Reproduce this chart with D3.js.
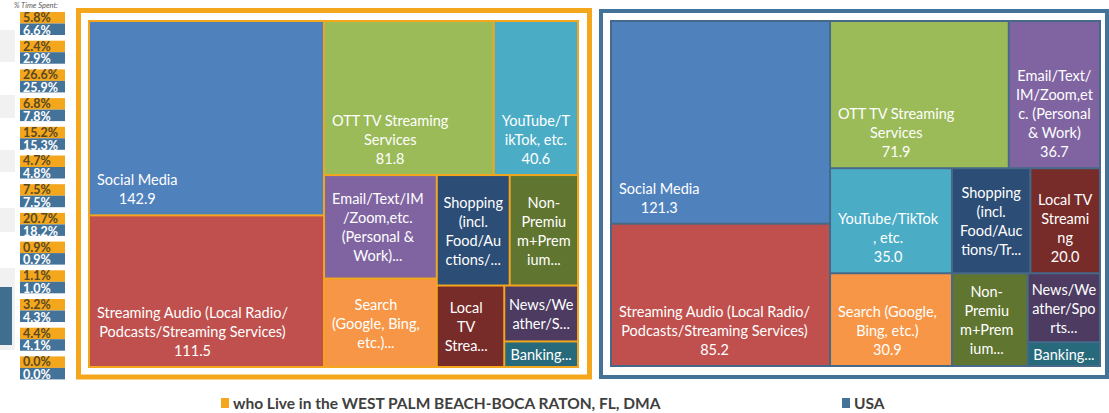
<!DOCTYPE html>
<html><head><meta charset="utf-8">
<script src="https://cdn.jsdelivr.net/npm/d3@7"></script>
<style>body{margin:0;background:#fff}svg{display:block}text{font-family:Lato,"Open Sans",sans-serif}</style>
</head><body><svg id="c" width="1109" height="413"></svg>
<script>
// ---- data ----
const categories = ["Social Media","Streaming Audio","OTT TV Streaming Services","YouTube/TikTok, etc.","Email/Text/IM/Zoom,etc.","Search","Shopping","Non-Premium+Premium","Local TV Streaming","News/Weather/Sports","Banking"];
const wpbValues = [142.9,111.5,81.8,40.6,36.5,31.2,25.2,23.6,17.2,12.9,5.9];
const usaValues = [121.3,85.2,71.9,35.0,36.7,30.9,22.5,19.2,20.0,13.6,4.7];
const wpbLabels = [
  ["Social Media"],
  ["Streaming Audio (Local Radio/","Podcasts/Streaming Services)"],
  ["OTT TV Streaming","Services"],
  ["YouTube/T","ikTok, etc."],
  ["Email/Text/IM","/Zoom,etc.","(Personal &","Work)..."],
  ["Search","(Google, Bing,","etc.)..."],
  ["Shopping","(incl.","Food/Au","ctions/..."],
  ["Non-","Premiu","m+Prem","ium..."],
  ["Local","TV","Strea..."],
  ["News/We","ather/S..."],
  ["Banking..."]
];
const usaLabels = [
  ["Social Media"],
  ["Streaming Audio (Local Radio/","Podcasts/Streaming Services)"],
  ["OTT TV Streaming","Services"],
  ["YouTube/TikTok",", etc."],
  ["Email/Text/","IM/Zoom,et","c. (Personal","& Work)"],
  ["Search (Google,","Bing, etc.)"],
  ["Shopping","(incl.","Food/Auc","tions/Tr..."],
  ["Non-","Premiu","m+Prem","ium..."],
  ["Local TV","Streami","ng"],
  ["News/We","ather/Spo","rts..."],
  ["Banking..."]
];
const wpbPct = ["5.8%","2.4%","26.6%","6.8%","15.2%","4.7%","7.5%","20.7%","0.9%","1.1%","3.2%","4.4%","0.0%"];
const usaPct = ["6.6%","2.9%","25.9%","7.8%","15.3%","4.8%","7.5%","18.2%","0.9%","1.0%","4.3%","4.1%","0.0%"];
const legendLabels = ["who Live in the WEST PALM BEACH-BOCA RATON, FL, DMA","USA"];

// ---- styles ----
const colors = ["#4f81bd","#c0504d","#9bbb59","#4bacc6","#8064a2","#f79646","#2c4d75","#5f7530","#772c2a","#4d3b62","#276a7c"];
const ORANGE = "#f4a61c", BLUE = "#44739a", SEPBLUE = "#46698a";

const svg = d3.select("#c");
svg.append("rect").attr("width",1109).attr("height",413).attr("fill","#fff");

// left cropped decoration
[[30,62],[95,118],[150,172],[208,232],[268,350]].forEach(r=>{
  svg.append("rect").attr("x",0).attr("y",r[0]).attr("width",15).attr("height",r[1]-r[0]).attr("fill","#f1f1f1");
});
svg.append("rect").attr("x",0).attr("y",287).attr("width",12).attr("height",58).attr("fill","#3f6e8e");

svg.append("text").attr("x",14).attr("y",5.5).attr("dominant-baseline","central").attr("font-size",7.5).attr("font-style","italic").attr("fill","#595959").text("% Time Spent:");

const rowY = d3.scalePoint().domain(d3.range(wpbPct.length)).range([12, 12 + 12*28.7]);
wpbPct.forEach((p,i)=>{
  const y = rowY(i);
  svg.append("rect").attr("x",20).attr("y",y).attr("width",45).attr("height",11.5).attr("fill",ORANGE);
  svg.append("rect").attr("x",20).attr("y",y+11.5).attr("width",45).attr("height",11.5).attr("fill",BLUE);
  svg.append("text").attr("x",23).attr("y",y+5.4).attr("dominant-baseline","central").attr("font-size",12.5).attr("font-weight","bold").attr("fill","#5a4a22").text(p);
  svg.append("text").attr("x",23).attr("y",y+18.2).attr("dominant-baseline","central").attr("font-size",12.5).attr("font-weight","bold").attr("fill","#fff").text(usaPct[i]);
});

// frames
svg.append("rect").attr("x",78.5).attr("y",10.5).attr("width",511).attr("height",366.5).attr("fill","none").attr("stroke",ORANGE).attr("stroke-width",5);
svg.append("rect").attr("x",601).attr("y",11).attr("width",506).attr("height",366).attr("fill","none").attr("stroke",BLUE).attr("stroke-width",4);

const LH = 19;
function panel(values, labels, box, sep){
  const root = d3.hierarchy({children: categories.map((c,i)=>({name:c, value:values[i], lines:labels[i], color:colors[i]}))})
    .sum(d=>d.value||0).sort((a,b)=>b.value-a.value);
  d3.treemap().tile(d3.treemapSquarify.ratio(1)).size([box.w, box.h]).paddingInner(2).paddingOuter(2)(root);
  const g = svg.append("g").attr("transform",`translate(${box.x},${box.y})`);
  g.append("rect").attr("width",box.w).attr("height",box.h).attr("fill",sep);
  const cell = g.selectAll("g.cell").data(root.leaves()).join("g").attr("class","cell");
  cell.append("rect").attr("x",d=>d.x0).attr("y",d=>d.y0).attr("width",d=>d.x1-d.x0).attr("height",d=>d.y1-d.y0).attr("fill",d=>d.data.color);
  cell.each(function(d){
    const lines = d.data.lines.slice();
    const truncated = lines[lines.length-1].endsWith("...");
    if(!truncated) lines.push(d3.format(".1f")(d.value));
    const t = d3.select(this).append("text").attr("fill","#fff").attr("font-size",14.5)
      .attr("text-anchor","middle").attr("dominant-baseline","central");
    lines.forEach((l,i)=>t.append("tspan").attr("x",0).attr("y",i*LH).text(l));
    const maxW = d3.max(t.selectAll("tspan").nodes(), n=>n.getComputedTextLength());
    const cx = Math.min(d.x0 + 7 + maxW/2, (d.x0+d.x1)/2);
    const firstY = truncated ? (d.y0+d.y1)/2 - (lines.length-1)*LH/2 : d.y1 - 16 - (lines.length-1)*LH;
    t.attr("transform",`translate(${cx},${firstY})`);
  });
}
panel(wpbValues, wpbLabels, {x:88,y:20,w:491,h:348}, ORANGE);
panel(usaValues, usaLabels, {x:610,y:20,w:491,h:347}, SEPBLUE);

// legend
const legX = [221, 842], legC = [ORANGE, BLUE];
legendLabels.forEach((l,i)=>{
  svg.append("rect").attr("x",legX[i]).attr("y",398).attr("width",8).attr("height",10).attr("fill",legC[i]);
  svg.append("text").attr("x",legX[i]+12).attr("y",403).attr("dominant-baseline","central").attr("font-size",15.5).attr("font-weight","bold").attr("fill","#404040").text(l);
});
</script></body></html>
